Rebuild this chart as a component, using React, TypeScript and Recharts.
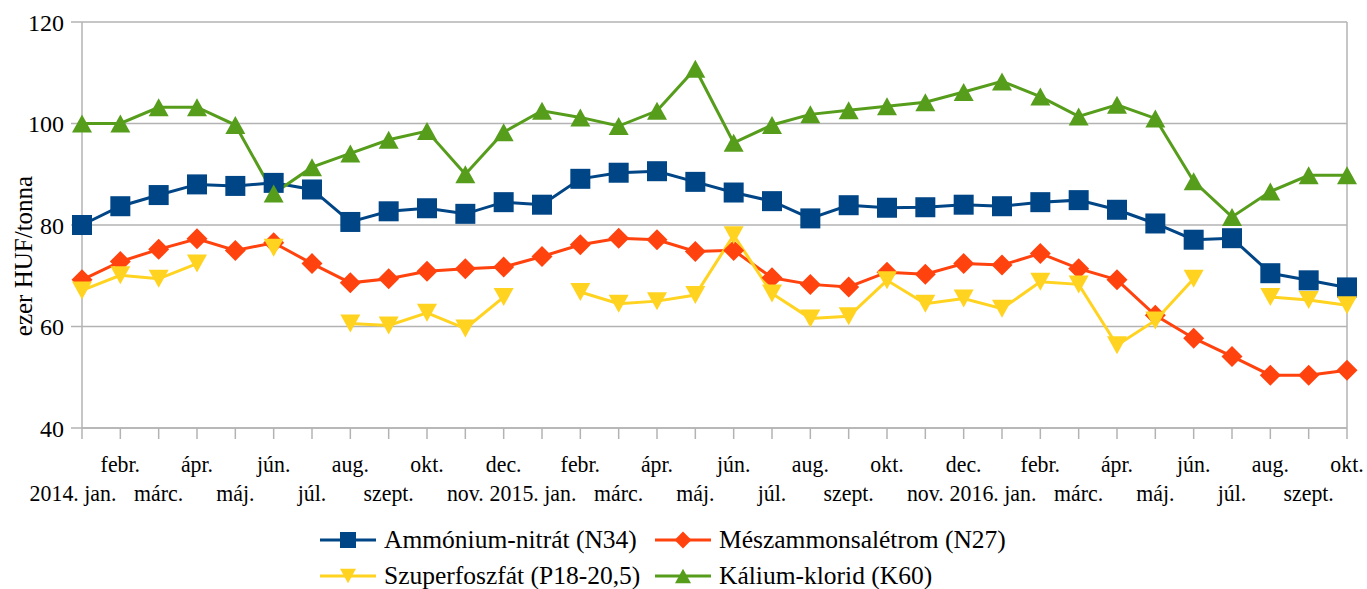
import { LineChart, Line, XAxis, YAxis, CartesianGrid, Legend, ReferenceLine } from "recharts"

const periods = [
  "2014-01", "2014-02", "2014-03", "2014-04", "2014-05", "2014-06", "2014-07", "2014-08", "2014-09", "2014-10", "2014-11", "2014-12",
  "2015-01", "2015-02", "2015-03", "2015-04", "2015-05", "2015-06", "2015-07", "2015-08", "2015-09", "2015-10", "2015-11", "2015-12",
  "2016-01", "2016-02", "2016-03", "2016-04", "2016-05", "2016-06", "2016-07", "2016-08", "2016-09", "2016-10",
]

const tickLabels = [
  "2014. jan.", "febr.", "márc.", "ápr.", "máj.", "jún.", "júl.", "aug.", "szept.", "okt.", "nov.", "dec.",
  "2015. jan.", "febr.", "márc.", "ápr.", "máj.", "jún.", "júl.", "aug.", "szept.", "okt.", "nov.", "dec.",
  "2016. jan.", "febr.", "márc.", "ápr.", "máj.", "jún.", "júl.", "aug.", "szept.", "okt.",
]

const ammoniumNitrat = [
  80.0, 83.7, 85.9, 88.0, 87.7, 88.3, 87.0, 80.6, 82.7, 83.3, 82.2, 84.5,
  84.0, 89.1, 90.3, 90.6, 88.5, 86.4, 84.7, 81.3, 83.9, 83.4, 83.5, 84.0,
  83.7, 84.5, 84.9, 83.0, 80.3, 77.1, 77.4, 70.5, 69.1, 67.7,
]

const meszammonsaletrom = [
  69.2, 72.8, 75.2, 77.3, 75.0, 76.5, 72.4, 68.6, 69.4, 70.9, 71.4, 71.7,
  73.8, 76.1, 77.4, 77.1, 74.8, 75.0, 69.6, 68.3, 67.8, 70.7, 70.3, 72.4,
  72.1, 74.4, 71.4, 69.2, 62.2, 57.7, 54.1, 50.4, 50.4, 51.4,
]

const szuperfoszfat = [
  67.1, 70.1, 69.4, 72.4, null, 75.5, null, 60.6, 60.2, 62.7, 59.6, 65.8,
  null, 66.8, 64.5, 65.0, 66.2, 78.0, 66.5, 61.6, 62.0, 69.1, 64.5, 65.5,
  63.5, 68.8, 68.3, 56.3, 61.2, 69.4, null, 65.8, 65.2, 64.2,
]

const kaliumKlorid = [
  100.0, 100.0, 103.2, 103.2, 99.7, 86.2, 91.4, 94.1, 96.8, 98.5, 90.0, 98.3,
  102.5, 101.2, 99.5, 102.5, 110.8, 96.2, 99.7, 101.8, 102.6, 103.4, 104.2, 106.2,
  108.3, 105.3, 101.4, 103.7, 101.0, 88.6, 81.6, 86.6, 89.8, 89.8,
]

const yTicks = [40, 60, 80, 100, 120]

const SERIES = [
  { key: "an", name: "Ammónium-nitrát (N34)", color: "#004586", shape: "square" },
  { key: "msz", name: "Mészammonsalétrom (N27)", color: "#ff420e", shape: "diamond" },
  { key: "szf", name: "Szuperfoszfát (P18-20,5)", color: "#ffd320", shape: "down" },
  { key: "kk", name: "Kálium-klorid (K60)", color: "#579d1c", shape: "up" },
]

const data = periods.map((p, i) => ({
  period: p,
  an: ammoniumNitrat[i],
  msz: meszammonsaletrom[i],
  szf: szuperfoszfat[i],
  kk: kaliumKlorid[i],
}))

const FONT = "Liberation Serif, Times New Roman, serif"
const GRID = "#b3b3b3"

function markerShape(shape: string, cx: number, cy: number, color: string, s = 1) {
  if (shape === "square") {
    return <rect x={cx - 10 * s} y={cy - 10 * s} width={20 * s} height={20 * s} fill={color} />
  }
  if (shape === "diamond") {
    const r = 10.5 * s
    return <polygon points={`${cx},${cy - r} ${cx + r},${cy} ${cx},${cy + r} ${cx - r},${cy}`} fill={color} />
  }
  if (shape === "down") {
    return <polygon points={`${cx - 10 * s},${cy - 9 * s} ${cx + 10 * s},${cy - 9 * s} ${cx},${cy + 9 * s}`} fill={color} />
  }
  return <polygon points={`${cx - 10 * s},${cy + 9 * s} ${cx + 10 * s},${cy + 9 * s} ${cx},${cy - 9 * s}`} fill={color} />
}

function makeDot(shape: string, color: string) {
  return (props: any) => {
    const { cx, cy, index, value } = props
    if (cx == null || cy == null || value == null) return <g key={index} />
    return <g key={index}>{markerShape(shape, cx, cy, color)}</g>
  }
}

function MonthTick(props: any) {
  const { x, y, payload } = props
  const i = periods.indexOf(payload.value)
  const lower = i % 2 === 0
  const label = tickLabels[i]
  // year labels sit a bit left of their tick in the original
  const shift = label.indexOf("20") === 0 ? -9 : 0
  return (
    <text
      transform={`translate(${x + shift},${y + (lower ? 61.5 : 32.5)}) scale(0.95,1)`}
      textAnchor="middle"
      fontSize={23}
      style={{ fontFamily: FONT }}
      fill="#000"
    >
      {label}
    </text>
  )
}

function LegendBox() {
  const cols = [320, 655]
  const rows = [41, 77]
  return (
    <div style={{ position: "relative", width: 1367, height: 90, fontFamily: FONT }}>
      {SERIES.map((s, i) => (
        <div
          key={s.key}
          style={{
            position: "absolute",
            left: cols[i % 2],
            top: rows[Math.floor(i / 2)] - 15,
            height: 30,
            display: "flex",
            alignItems: "center",
            whiteSpace: "nowrap",
          }}
        >
          <svg width={56} height={24} style={{ marginRight: 8 }}>
            <line x1={0} y1={12} x2={56} y2={12} stroke={s.color} strokeWidth={3} />
            {markerShape(s.shape, 28, 12, s.color, 0.8)}
          </svg>
          <span style={{ fontFamily: FONT, fontSize: 25.5, color: "#000" }}>{s.name}</span>
        </div>
      ))}
    </div>
  )
}

export default function App() {
  return (
    <div style={{ position: "absolute", left: 0, top: 0, background: "#fff", fontFamily: FONT }}>
      <LineChart width={1367} height={589} data={data} margin={{ top: 22, right: 20, left: 0, bottom: 0 }}>
        <CartesianGrid vertical={false} stroke={GRID} strokeWidth={1.5} />
        <XAxis
          dataKey="period"
          interval={0}
          height={71}
          tickSize={11}
          tickMargin={0}
          tick={<MonthTick />}
          stroke={GRID}
          strokeWidth={1.5}
        />
        <YAxis
          domain={[40, 120]}
          ticks={yTicks}
          width={82}
          tickSize={11}
          tickMargin={7}
          stroke={GRID}
          strokeWidth={1.5}
          tick={{ fontSize: 24, fill: "#000", style: { fontFamily: FONT } }}
          label={{
            content: (props: any) => {
              const vb = props.viewBox || { x: 0, y: 22, width: 82, height: 406 }
              const cx = vb.x + 23
              const cy = vb.y + vb.height / 2 + 31
              return (
                <text
                  x={cx}
                  y={cy}
                  transform={`rotate(-90, ${cx}, ${cy})`}
                  textAnchor="middle"
                  dominantBaseline="central"
                  fontSize={25}
                  style={{ fontFamily: FONT }}
                  fill="#000"
                >
                  ezer HUF/tonna
                </text>
              )
            },
          }}
        />
        <ReferenceLine x={periods[periods.length - 1]} stroke={GRID} strokeWidth={1.5} />
        {SERIES.map((s) => (
          <Line
            key={s.key}
            type="linear"
            dataKey={s.key}
            name={s.name}
            stroke={s.color}
            strokeWidth={3}
            dot={makeDot(s.shape, s.color)}
            activeDot={false}
            connectNulls={false}
            isAnimationActive={false}
          />
        ))}
        <Legend
          verticalAlign="bottom"
          align="left"
          width={1367}
          height={90}
          wrapperStyle={{ left: 0 }}
          content={() => <LegendBox />}
        />
      </LineChart>
    </div>
  )
}
